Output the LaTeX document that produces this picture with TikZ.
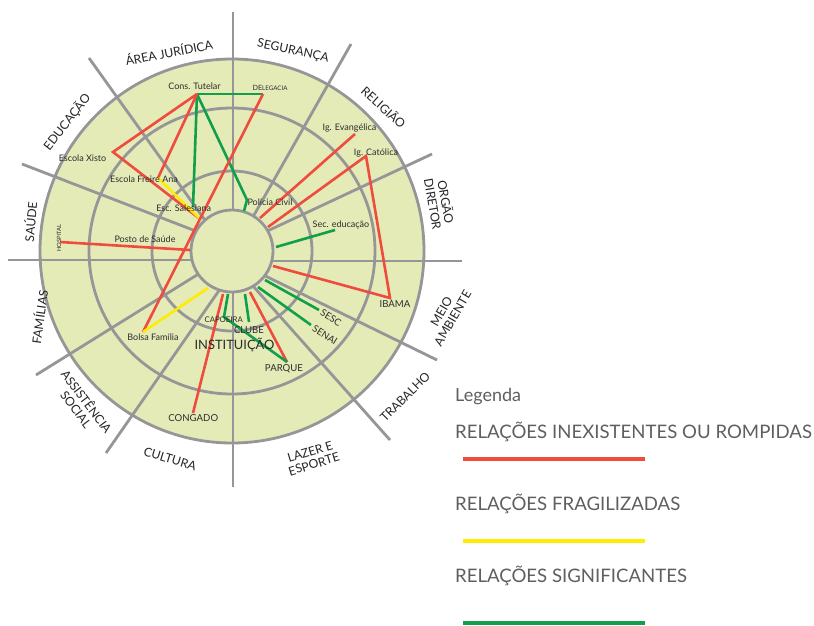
\documentclass[tikz,border=0pt]{standalone}
\usepackage{fontspec}
\setmainfont{Lato}
\definecolor{ringfill}{RGB}{228,235,183}
\definecolor{spokegray}{RGB}{150,150,152}
\definecolor{relred}{RGB}{239,75,63}
\definecolor{relgreen}{RGB}{16,160,75}
\definecolor{relyellow}{RGB}{255,236,0}
\definecolor{labtext}{RGB}{45,45,45}
\definecolor{legtext}{RGB}{95,95,95}
\tikzset{
  ringline/.style={draw=spokegray, line width=2.8pt},
  spoke/.style={draw=spokegray, line width=2.8pt},
  rel/.style={line width=2.6pt},
  redrel/.style={rel, draw=relred},
  greenrel/.style={rel, draw=relgreen},
  yellowrel/.style={rel, draw=relyellow},
  lab/.style={font=\fontsize{9}{9.5}\selectfont, text=labtext, inner sep=0pt},
  smallcap/.style={font=\fontsize{9.6}{10}\selectfont, text=labtext, inner sep=0pt},
  sector/.style={font=\fontsize{12.2}{13}\selectfont, text=black!85, inner sep=0pt, align=center},
  legtitle/.style={font=\fontsize{18}{20}\selectfont, text=legtext, inner sep=0pt, anchor=west},
  legitem/.style={font=\fontsize{18.6}{20}\selectfont, text=legtext, inner sep=0pt, anchor=west},
  legline/.style={line width=4pt},
}
\begin{document}
\begin{tikzpicture}[x=1pt,y=-1pt]
\useasboundingbox (0,0) rectangle (814,625);
\fill[white] (0,0) rectangle (814,625);
\coordinate (C) at (232,251);
% rings
\filldraw[ringline, fill=ringfill] (C) circle[radius=192pt];
\draw[ringline] (C) circle[radius=143pt];
\draw[ringline] (C) circle[radius=80pt];
% spokes
\coordinate (s1o) at (233,12);   \coordinate (s1i) at (233,251);
\coordinate (s2o) at (89,58);    \coordinate (s2i) at (222,244);
\coordinate (s3o) at (22,164);   \coordinate (s3i) at (219,240);
\coordinate (s4o) at (8,260);    \coordinate (s4i) at (215,260);
\coordinate (s5o) at (36,375);   \coordinate (s5i) at (221,260);
\coordinate (s6o) at (106,453);  \coordinate (s6i) at (234,269);
\coordinate (s7o) at (233,487);  \coordinate (s7i) at (233,260);
\coordinate (s8o) at (390,440);  \coordinate (s8i) at (237,268);
\coordinate (s9o) at (437,360);  \coordinate (s9i) at (245,266);
\coordinate (s10o) at (462,261); \coordinate (s10i) at (250,261);
\coordinate (s11o) at (432,154); \coordinate (s11i) at (246,241);
\coordinate (s12o) at (351,44);  \coordinate (s12i) at (241,238);
\foreach \k in {1,...,12}{\draw[spoke] (s\k o) -- (s\k i);}
% inner circle
\filldraw[ringline, fill=ringfill] (C) circle[radius=41pt];
% relation points
\coordinate (ct) at (197,94);
\coordinate (del) at (263,94);
\coordinate (xis) at (113,152);
\coordinate (fa) at (158,178);
\coordinate (sal) at (193,207);
\coordinate (pc) at (247,200);
\coordinate (pcin) at (244,211);
\coordinate (nw) at (200,219);
\coordinate (hos) at (60,242);
\coordinate (hosin) at (190,250);
\coordinate (ev) at (355,134);
\coordinate (evin) at (260,218);
\coordinate (cat) at (366,156);
\coordinate (catin) at (268,227);
\coordinate (ib) at (390,298);
\coordinate (ibin) at (273,266);
\coordinate (se) at (335,230);
\coordinate (sein) at (276,247);
\coordinate (sesc) at (319,310);
\coordinate (sescin) at (265,280);
\coordinate (senai) at (311,325);
\coordinate (senaiin) at (258,287);
\coordinate (par) at (287,362);
\coordinate (parin) at (250,292);
\coordinate (clu) at (249,322);
\coordinate (cluin) at (245,294);
\coordinate (cap) at (224,317);
\coordinate (capin) at (228,294);
\coordinate (con) at (193,413);
\coordinate (conin) at (223,294);
\coordinate (bf) at (143,332);
\coordinate (bfin) at (208,288);
% relations
\draw[greenrel] (ct) -- (del);
\draw[greenrel] (ct) -- (sal);
\draw[greenrel] (ct) -- (pc) -- (pcin);
\draw[redrel] (ct) -- (xis) -- (nw);
\draw[redrel] (ct) -- (fa);
\draw[yellowrel] (fa) -- (nw);
\draw[redrel] (del) -- (bf);
\draw[redrel] (hos) -- (hosin);
\draw[redrel] (evin) -- (ev);
\draw[redrel] (catin) -- (cat) -- (ib) -- (ibin);
\draw[greenrel] (sein) -- (se);
\draw[greenrel] (sescin) -- (sesc);
\draw[greenrel] (senaiin) -- (senai);
\draw[redrel] (parin) -- (par);
\draw[greenrel] (cluin) -- (clu);
\draw[greenrel] (capin) -- (cap) -- (par);
\draw[redrel] (conin) -- (con);
\draw[yellowrel] (bfin) -- (bf);
% inner labels
\node[lab] (lct) at (194.5,86) {Cons. Tutelar};
\node[inner sep=0pt, text=labtext] (ldel) at (270,88) {\fontsize{7.2}{8}\selectfont DE\fontsize{6.2}{8}\selectfont LEGACIA};
\node[lab] (lxis) at (82.5,158) {Escola Xisto};
\node[lab] (lfa) at (144,179) {Escola Freire Ana};
\node[lab] (lsal) at (183.7,208) {Esc. Salesiana};
\node[lab] (lpc) at (270,202) {Polícia Civil};
\node[lab] (lps) at (145,239) {Posto de Saúde};
\node[inner sep=0pt, text=labtext, font=\fontsize{5.8}{6}\selectfont, rotate=90] (lhos) at (59,238) {HOSPITAL};
\node[lab] (lev) at (349.5,128.5) {Ig. Evangélica};
\node[lab] (lcat) at (376,152.7) {Ig. Católica};
\node[lab] (lse) at (341,224.5) {Sec. educação};
\node[smallcap] (lib) at (395,304) {IBAMA};
\node[smallcap, rotate=-32] (lsesc) at (331,318) {SESC};
\node[smallcap, rotate=-32] (lsenai) at (325,335) {SENAI};
\node[smallcap] (lpar) at (284,368.5) {PARQUE};
\node[smallcap] (lclu) at (249,330) {CLUBE};
\node[smallcap, font=\fontsize{7.8}{8}\selectfont] (lcap) at (223.7,320) {CAPOEIRA};
\node[inner sep=0pt, text=labtext, font=\fontsize{12.9}{13}\selectfont] (linst) at (234.5,345) {INSTITUIÇÃO};
\node[lab] (lbf) at (153,337.5) {Bolsa Família};
\node[smallcap] (lcon) at (193.3,418.5) {CONGADO};
% sector labels
\node[sector, rotate=11] (aj) at (169,52) {ÁREA JURÍDICA};
\node[sector, rotate=-12] (seg) at (293,51) {SEGURANÇA};
\node[sector, rotate=-42] (rel) at (384,107) {RELIGIÃO};
\node[sector, rotate=-80] (od) at (440,203) {ORGÃO\\DIRETOR};
\node[sector, rotate=60] (ma) at (447,315) {MEIO\\AMBIENTE};
\node[sector, rotate=45] (tr) at (405,397) {TRABALHO};
\node[sector, rotate=17] (le) at (312,458) {LAZER E\\ESPORTE};
\node[sector, rotate=-17] (cu) at (170,459) {CULTURA};
\node[sector, rotate=-53] (as) at (82,405) {ASSISTÊNCIA\\SOCIAL};
\node[sector, rotate=82] (fm) at (39,317) {FAMÍLIAS};
\node[sector, rotate=85] (sa) at (30,222) {SAÚDE};
\node[sector, rotate=52] (ed) at (67,122) {EDUCAÇÃO};
% legend
\node[legtitle] (leg) at (455,397) {Legenda};
\node[legitem] (l1) at (455,432) {RELAÇÕES INEXISTENTES OU ROMPIDAS};
\node[legitem] (l2) at (455,503.5) {RELAÇÕES FRAGILIZADAS};
\node[legitem] (l3) at (455,576) {RELAÇÕES SIGNIFICANTES};
\coordinate (r1a) at (463,458.5); \coordinate (r1b) at (645,458.5);
\coordinate (r2a) at (463,541); \coordinate (r2b) at (645,541);
\coordinate (r3a) at (463,622.5); \coordinate (r3b) at (645,622.5);
\draw[legline, draw=relred] (r1a) -- (r1b);
\draw[legline, draw=relyellow] (r2a) -- (r2b);
\draw[legline, draw=relgreen] (r3a) -- (r3b);
\end{tikzpicture}
\end{document}
